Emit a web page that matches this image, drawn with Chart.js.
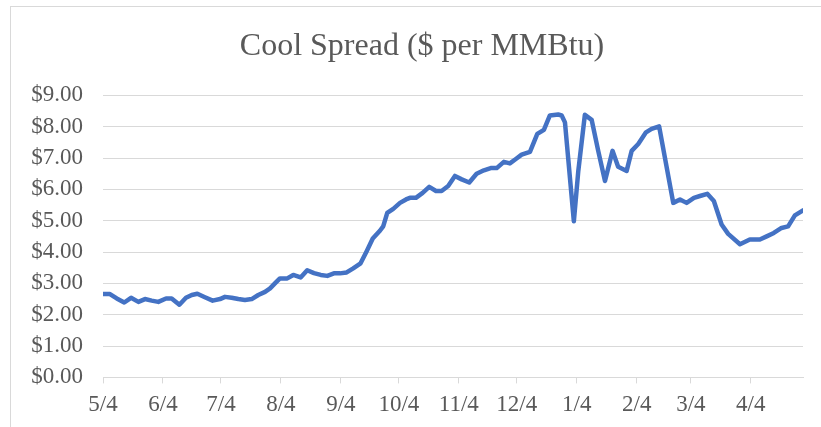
<!DOCTYPE html>
<html>
<head>
<meta charset="utf-8">
<script src="https://cdn.jsdelivr.net/npm/chart.js@4"></script>
<style>
  html, body { margin:0; padding:0; background:#fff; }
  #wrap { position:relative; width:821px; height:427px; overflow:hidden; }
  #frame { position:absolute; left:10px; top:6px; width:840px; height:440px; border:1px solid #d9d9d9; box-sizing:border-box; }
  canvas { position:absolute; left:0; top:0; }
</style>
</head>
<body>
<div id="wrap">
  <div id="frame"></div>
  <canvas id="c" width="852" height="427"></canvas>
</div>
<script>
// Tick labels and their day offsets from 5/4
const tickLabels = ['5/4','6/4','7/4','8/4','9/4','10/4','11/4','12/4','1/4','2/4','3/4','4/4'];
const tickDays   = [0, 31, 61, 92, 123, 153, 184, 214, 245, 276, 304, 335];

// Series: day offset since 5/4 and spread value ($/MMBtu)
const days = [0,3.6,7.1,11.0,14.5,18.3,21.7,25.2,28.6,32.6,35.5,39.5,42.9,45.9,48.8,52.7,56.7,60.5,63.1,66.5,
  70.0,73.4,76.9,80.3,83.8,86.4,88.9,91.5,95.3,98.4,102.2,105.6,109.1,112.6,116.0,119.4,122.5,126.0,129.4,133.2,
  136.3,139.5,143.2,144.9,147.0,150.1,153.6,156.7,158.7,161.8,165.3,168.7,172.2,175.1,178.5,182.0,185.5,189.4,193.2,197.0,
  200.5,203.6,207.3,210.4,213.5,216.5,220.8,224.6,228.0,231.1,235.4,237.2,238.9,243.5,245.8,249.2,252.7,256.1,259.6,263.5,
  266.4,270.8,273.4,276.8,280.8,283.7,287.6,294.9,298.4,301.8,305.6,308.7,312.5,315.9,319.9,323.3,329.4,334.5,339.7,343.2,
  346.9,350.9,354.3,357.8,362];
const spread = [2.66,2.66,2.52,2.39,2.54,2.41,2.50,2.45,2.41,2.52,2.52,2.32,2.54,2.63,2.67,2.56,2.45,2.50,2.57,2.54,
  2.50,2.47,2.50,2.63,2.73,2.84,3.00,3.16,3.16,3.27,3.19,3.42,3.33,3.27,3.24,3.32,3.32,3.35,3.48,3.64,
  4.02,4.43,4.68,4.82,5.25,5.38,5.57,5.68,5.73,5.73,5.89,6.08,5.95,5.95,6.11,6.43,6.32,6.22,6.50,6.61,
  6.68,6.68,6.88,6.83,6.97,7.11,7.20,7.77,7.90,8.36,8.39,8.36,8.14,4.98,6.59,8.38,8.22,7.23,6.27,7.23,
  6.72,6.59,7.23,7.45,7.82,7.93,8.01,5.57,5.68,5.57,5.73,5.79,5.86,5.63,4.88,4.58,4.25,4.40,4.40,4.50,
  4.61,4.77,4.82,5.17,5.33];

const FONT = "'Liberation Serif','Times New Roman',serif";
const pts = days.map((d, i) => ({ x: d, y: spread[i] }));

new Chart(document.getElementById('c'), {
  type: 'line',
  data: { datasets: [{
    data: pts,
    borderColor: '#4472C4',
    borderWidth: 4.5,
    pointRadius: 0,
    tension: 0,
    borderJoinStyle: 'round',
    borderCapStyle: 'round',
    fill: false
  }]},
  options: {
    responsive: false,
    animation: false,
    layout: { padding: { left: 10, right: 18, top: 14, bottom: 0 } },
    plugins: {
      legend: { display: false },
      tooltip: { enabled: false },
      title: {
        display: true,
        text: 'Cool Spread ($ per MMBtu)',
        color: '#595959',
        font: { family: FONT, size: 32, weight: 'normal' },
        padding: { top: 13, bottom: 30 }
      }
    },
    scales: {
      x: {
        type: 'linear',
        min: 0, max: 362,
        afterBuildTicks: (axis) => { axis.ticks = tickDays.map(v => ({ value: v })); },
        ticks: {
          color: '#595959',
          font: { family: FONT, size: 23 },
          maxRotation: 0,
          autoSkip: false,
          padding: 8,
          callback: (v) => { const i = tickDays.indexOf(v); return i >= 0 ? tickLabels[i] : ''; }
        },
        grid: { drawOnChartArea: false, drawTicks: true, tickLength: 6, color: '#d9d9d9' },
        border: { color: '#d9d9d9', width: 1 }
      },
      y: {
        min: 0, max: 9,
        afterFit: (s) => { s.width = 93; },
        ticks: {
          stepSize: 1,
          color: '#595959',
          font: { family: FONT, size: 23 },
          padding: 20,
          callback: (v) => '$' + Number(v).toFixed(2)
        },
        grid: { color: '#d9d9d9', drawTicks: false, lineWidth: 1 },
        border: { display: false }
      },
      yPad: {
        position: 'right',
        min: 0, max: 9,
        afterFit: (s) => { s.width = 31; },
        ticks: { display: false },
        grid: { display: false },
        border: { display: false }
      }
    }
  }
});
</script>
</body>
</html>
